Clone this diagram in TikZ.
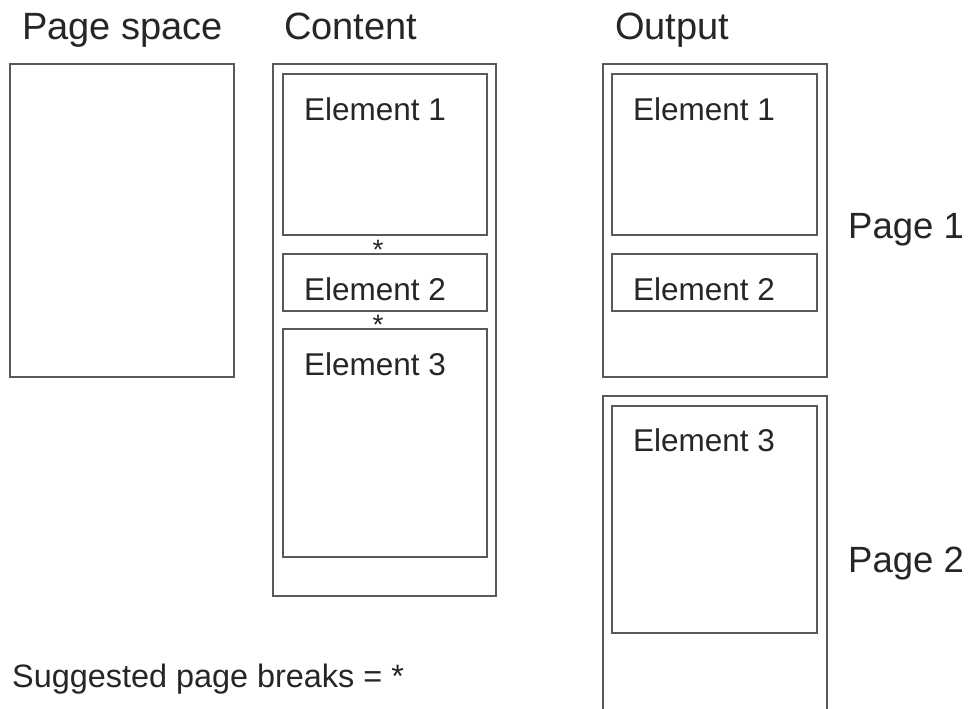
\documentclass[tikz,border=0pt]{standalone}
\usepackage{fontspec}
\setmainfont{Liberation Sans}
\begin{document}
\begin{tikzpicture}[x=1pt,y=-1pt,
  frame/.style={draw=black!65,line width=1.4pt},
  title/.style={anchor=base west,inner sep=0pt,font=\fontsize{38}{40}\selectfont,text=black!85},
  elabel/.style={anchor=base west,inner sep=0pt,font=\fontsize{31.5}{34}\selectfont,text=black!85},
  plabel/.style={anchor=base west,inner sep=0pt,font=\fontsize{36.5}{40}\selectfont,text=black!85},
  starmark/.style={anchor=base,inner sep=0pt,font=\fontsize{28}{30}\selectfont,text=black!85}]
\useasboundingbox (0,0) rectangle (974,709);
\fill[white] (0,0) rectangle (974,709);
% titles
\node[title] (tps) at (22,40) {Page space};
\node[title] (tct) at (284,40) {Content};
\node[title] (tout) at (615,40) {Output};
% page space
\draw[frame] (10,64) rectangle (234,377);
% content column
\draw[frame] (273,64) rectangle (496,596);
\draw[frame] (283,74) rectangle (487,235);
\draw[frame] (283,254) rectangle (487,311);
\draw[frame] (283,329) rectangle (487,557);
\node[elabel] (c1) at (304,120) {Element 1};
\node[elabel] (c2) at (304,300) {Element 2};
\node[elabel] (c3) at (304,375) {Element 3};
\node[starmark] (s1) at (378,259) {*};
\node[starmark] (s2) at (378,334) {*};
% output page 1
\draw[frame] (603,64) rectangle (827,377);
\draw[frame] (612,74) rectangle (817,235);
\draw[frame] (612,254) rectangle (817,311);
\node[elabel] (o1) at (633,120) {Element 1};
\node[elabel] (o2) at (633,300) {Element 2};
% output page 2
\draw[frame] (603,715) -- (603,396) -- (827,396) -- (827,715);
\draw[frame] (612,406) rectangle (817,633);
\node[elabel] (o3) at (633,451) {Element 3};
% page labels
\node[plabel] (p1) at (848,238) {Page 1};
\node[plabel] (p2) at (848,572) {Page 2};
% legend
\node[elabel,font=\fontsize{32.4}{34}\selectfont] (leg) at (12,687) {Suggested page breaks = *};
\end{tikzpicture}
\end{document}
